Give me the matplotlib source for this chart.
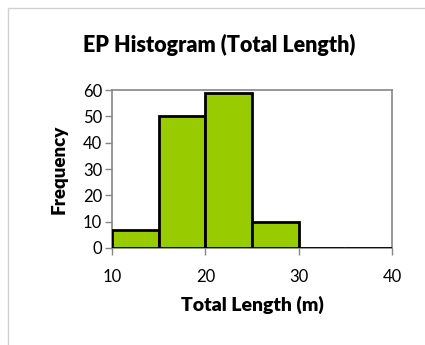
import matplotlib.pyplot as plt
from matplotlib.patches import Rectangle

bin_edges = [10, 15, 20, 25, 30, 35, 40]
counts = [7, 50, 59, 10, 0, 0]
x_ticks = [10, 20, 30, 40]
y_ticks = [0, 10, 20, 30, 40, 50, 60]

plt.rcParams['font.family'] = ['Lato', 'DejaVu Sans']

fig = plt.figure(figsize=(4.25, 3.45), dpi=100)
W, H = 425, 345

# outer chart-area border (light gray), open to the right/bottom
fig.patches.append(Rectangle((8 / W, -0.1), 1.2, 1 - 8 / H + 0.1, transform=fig.transFigure,
                             fill=False, edgecolor='#d0d0d0', linewidth=1))

ax = fig.add_axes([112 / W, 1 - 248 / H, 280 / W, 158 / H])

lefts = bin_edges[:-1]
widths = [b - a for a, b in zip(bin_edges[:-1], bin_edges[1:])]
ax.bar(lefts, counts, width=widths, align='edge', color='#99cc00',
       edgecolor='black', linewidth=2, zorder=3)

ax.set_xlim(10, 40)
ax.set_ylim(0, 60)
ax.set_xticks(x_ticks)
ax.set_yticks(y_ticks)
for s in ax.spines.values():
    s.set_color('#868686')
    s.set_linewidth(1.2)
ax.tick_params(axis='both', colors='#868686', length=5, width=1, labelsize=12,
               labelcolor='black')
ax.tick_params(axis='x', pad=10)
ax.tick_params(axis='y', pad=2)

ax.set_xlabel('Total Length (m)', fontsize=14, fontweight='heavy', labelpad=8)
ax.set_ylabel('Frequency', fontsize=13.5, fontweight='heavy', labelpad=11)
fig.text(219 / W, 1 - 45 / H, 'EP Histogram (Total Length)', fontsize=15.5,
         fontweight='heavy', ha='center', va='center')

fig.savefig('out.png', dpi=100)
